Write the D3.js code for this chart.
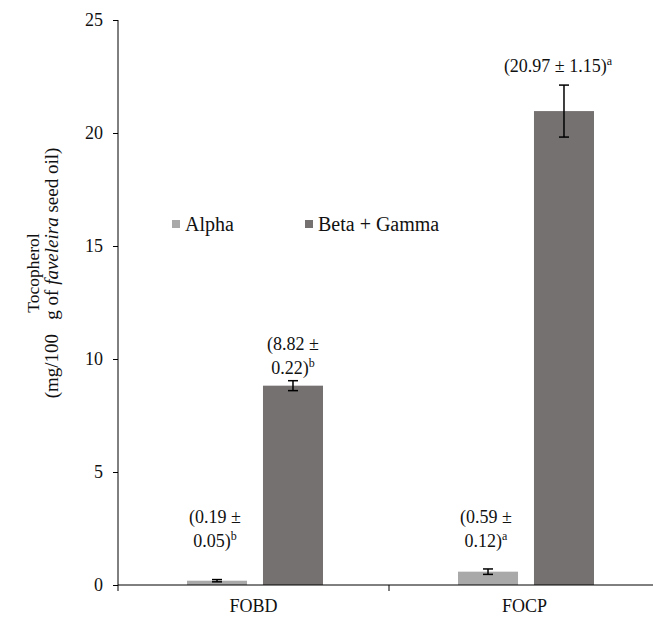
<!DOCTYPE html>
<html><head><meta charset="utf-8">
<script src="https://cdn.jsdelivr.net/npm/d3@7"></script>
<style>
body{margin:0;background:#fff;}
svg text{font-family:'Liberation Serif','Times New Roman','DejaVu Serif',serif !important;fill:#111;}
</style></head>
<body><svg id="c" width="653" height="618" font-family="Liberation Serif, serif"></svg>
<script>
const categories = ["FOBD", "FOCP"];
const seriesNames = ["Alpha", "Beta + Gamma"];
const alphaValues = [0.19, 0.59];
const alphaErrors = [0.05, 0.12];
const betaValues = [8.82, 20.97];
const betaErrors = [0.22, 1.15];
const alphaLetters = ["b", "a"];
const betaLetters = ["b", "a"];
const yTicks = [0, 5, 10, 15, 20, 25];
const colors = ["#a9a9a9", "#767171"];

const FONT = "Liberation Serif, Times New Roman, serif";
const svg = d3.select("#c");
const mLeft = 118, mRight = 660, mTop = 20, mBottom = 585;

const y = d3.scaleLinear().domain([0, 25]).range([mBottom, mTop]);
const x0 = d3.scaleBand().domain(categories).range([mLeft, mRight]).padding(0);
const x1 = d3.scaleBand().domain(seriesNames).range([69, 205]).paddingInner(0.21);

const rows = categories.map((c, i) => ({
  cat: c,
  items: [
    {s: seriesNames[0], v: alphaValues[i], e: alphaErrors[i], l: alphaLetters[i]},
    {s: seriesNames[1], v: betaValues[i], e: betaErrors[i], l: betaLetters[i]}
  ]
}));

const g = svg.append("g");
rows.forEach(r => {
  r.items.forEach((d, j) => {
    const bx = x0(r.cat) + x1(d.s);
    const bw = x1.bandwidth();
    g.append("rect").attr("x", bx).attr("y", y(d.v)).attr("width", bw)
      .attr("height", y(0) - y(d.v)).attr("fill", colors[j]);
    const cx = bx + bw / 2;
    const e = g.append("g").attr("stroke", "#000").attr("stroke-width", 1.5);
    e.append("line").attr("x1", cx).attr("x2", cx).attr("y1", y(d.v + d.e)).attr("y2", y(d.v - d.e));
    e.append("line").attr("x1", cx - 5).attr("x2", cx + 5).attr("y1", y(d.v + d.e)).attr("y2", y(d.v + d.e));
    e.append("line").attr("x1", cx - 5).attr("x2", cx + 5).attr("y1", y(d.v - d.e)).attr("y2", y(d.v - d.e));
  });
});

// value labels
function label(cx, yb, lines, letter) {
  const t = svg.append("text").attr("text-anchor", "middle").attr("font-size", 18).attr("font-family", FONT);
  lines.forEach((ln, i) => {
    t.append("tspan").attr("x", cx).attr("y", yb + i * 24).text(ln);
    if (i === lines.length - 1) {
      t.append("tspan").attr("font-size", 12).attr("dy", -7).text(letter);
    }
  });
}
rows.forEach((r, i) => {
  const a = r.items[0], b = r.items[1];
  const ax = x0(r.cat) + x1(a.s) + x1.bandwidth() / 2;
  const bxC = x0(r.cat) + x1(b.s) + x1.bandwidth() / 2;
  label(ax - 2, 523, ["(" + a.v.toFixed(2) + " \u00B1", a.e.toFixed(2) + ")"], a.l);
  if (i === 0) {
    label(bxC, 350, ["(" + b.v.toFixed(2) + " \u00B1", b.e.toFixed(2) + ")"], b.l);
  } else {
    label(bxC - 6, 72, ["(" + b.v.toFixed(2) + "  \u00B1 " + b.e.toFixed(2) + ")"], b.l);
  }
});

// axes
const ya = svg.append("g").attr("transform", `translate(${mLeft},0)`)
  .call(d3.axisLeft(y).tickValues(yTicks).tickSize(5).tickPadding(10));
ya.attr("font-family", FONT).attr("font-size", 18);
ya.selectAll("text").attr("font-size", 18).attr("font-family", FONT);
ya.select(".domain").attr("d", `M0,${mTop}V${mBottom}`).attr("stroke", "#000");

const xa = svg.append("g").attr("transform", `translate(0,${mBottom})`)
  .call(d3.axisBottom(x0).tickSize(0).tickPadding(14));
xa.attr("font-family", FONT).attr("font-size", 18);
xa.select(".domain").attr("d", `M${mLeft},0H${653}`).attr("stroke", "#000");
xa.selectAll("text").attr("font-size", 18).attr("font-family", FONT);
categories.forEach(c => {
  xa.append("line").attr("x1", x0(c)).attr("x2", x0(c)).attr("y1", 0).attr("y2", 6).attr("stroke", "#000");
});

// legend
const leg = svg.append("g").attr("font-family", FONT);
const legX = [172, 305];
seriesNames.forEach((s, i) => {
  leg.append("rect").attr("x", legX[i]).attr("y", 220).attr("width", 8).attr("height", 8).attr("fill", colors[i]);
  leg.append("text").attr("x", legX[i] + 13).attr("y", 231).attr("font-size", 20).attr("font-family", FONT).text(s);
});

// y title
const yt = svg.append("text").attr("transform", "translate(0,273) rotate(-90)")
  .attr("text-anchor", "middle").attr("font-family", FONT);
yt.append("tspan").attr("x", 0).attr("y", 39).attr("font-size", 17.5).text("Tocopherol");
const l2 = yt.append("tspan").attr("x", 0).attr("y", 58).attr("font-size", 19);
l2.append("tspan").text("(mg/100\u00A0\u00A0 g of ");
l2.append("tspan").attr("font-style", "italic").text("faveleira");
l2.append("tspan").text(" seed oil)");
</script></body></html>
